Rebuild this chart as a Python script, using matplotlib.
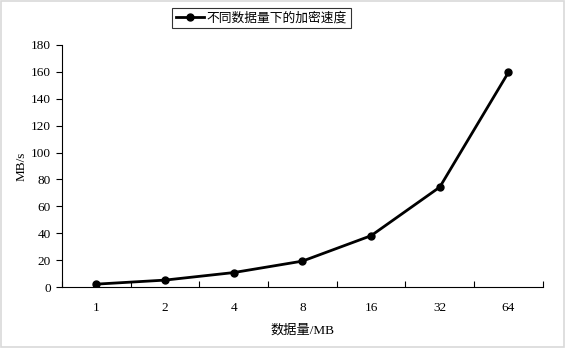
import matplotlib.pyplot as plt
import numpy as np
from matplotlib.patches import Rectangle

plt.rcParams['font.family'] = ['Liberation Serif', 'Noto Sans CJK SC']

# 数据
sizes = ['1', '2', '4', '8', '16', '32', '64']
speed = [2.2, 5.2, 10.8, 19.3, 38.2, 74.3, 159.6]

fig = plt.figure(figsize=(5.66, 3.48), dpi=100)
ax = fig.add_axes([0.1095, 0.175, 0.8495, 0.696])

x = np.arange(len(sizes))
ax.plot(x, speed, color='black', lw=2.0, marker='o', markersize=5,
        label='不同数据量下的加密速度')

ax.set_xlim(-0.5, len(sizes) - 0.5)
ax.set_ylim(0, 180)
ax.set_yticks(range(0, 181, 20))
ax.set_xticks(np.arange(-0.5, len(sizes), 1))
ax.set_xticklabels([])
ax.set_xticks(x, minor=True)
ax.set_xticklabels(sizes, minor=True)
ax.tick_params(axis='x', which='major', direction='in', length=4, width=0.8)
ax.tick_params(axis='x', which='minor', length=0, pad=11, labelsize=9.5)
ax.tick_params(axis='y', direction='out', length=4, width=0.8, labelsize=9.5, pad=4)
for s in ['top', 'right']:
    ax.spines[s].set_visible(False)
for s in ['left', 'bottom']:
    ax.spines[s].set_linewidth(0.8)

ax.set_ylabel('MB/s', fontsize=9.5)
ax.yaxis.set_label_coords(-0.072, 0.5)
ax.set_xlabel('数据量/MB', fontsize=9.5, labelpad=7)

leg = fig.legend(loc='center', bbox_to_anchor=(0.462, 0.948), fontsize=9.2,
                 frameon=True, fancybox=False, borderpad=0.3, handlelength=2.2,
                 handletextpad=0.2)
leg.get_frame().set_edgecolor('black')
leg.get_frame().set_linewidth(0.8)

fig.patches.append(Rectangle((0.002, 0.003), 0.995, 0.993, transform=fig.transFigure,
                             fill=False, edgecolor='#d9d9d9', lw=1.2))

fig.savefig('out.png', dpi=100)
